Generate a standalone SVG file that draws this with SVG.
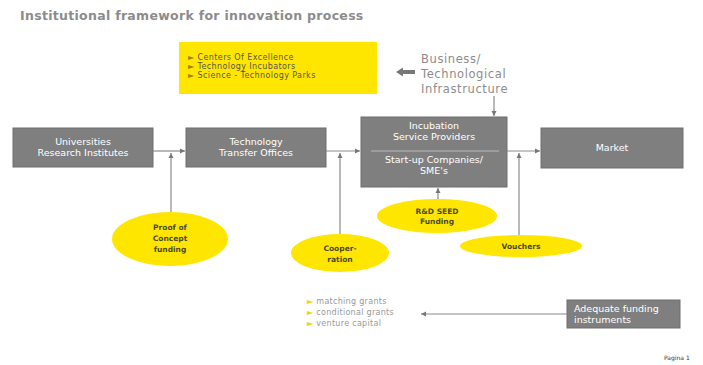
<svg xmlns="http://www.w3.org/2000/svg" width="703" height="365" viewBox="0 0 703 365">
<style>
.box{fill:#7f7f7f;stroke:#6e6e6e;stroke-width:1}
.ell{fill:#ffe600}
.wt{font-family:"DejaVu Sans",Verdana,sans-serif;font-size:9.5px;fill:#ffffff;text-anchor:middle}
.et{font-family:"DejaVu Sans",Verdana,sans-serif;font-size:7.5px;font-weight:bold;fill:#4a4a2a;text-anchor:middle}
.ln{stroke:#8a8a8a;stroke-width:1.2;fill:none}
.sm{font-family:"DejaVu Sans",Verdana,sans-serif;font-size:8px;letter-spacing:0.4px;fill:#555}
.gr{font-family:"DejaVu Sans",Verdana,sans-serif;font-size:8px;letter-spacing:0.3px;fill:#999}
</style>
<defs>
<marker id="ah" markerWidth="6" markerHeight="6" refX="5" refY="3" orient="auto" markerUnits="userSpaceOnUse">
<path d="M0,0.5 L5,3 L0,5.5 Z" fill="#777"/>
</marker>
</defs>
<rect width="703" height="365" fill="#ffffff"/>
<text x="20" y="20" font-family="DejaVu Sans,Verdana,sans-serif" font-size="12.5" font-weight="bold" letter-spacing="0.3" fill="#8c8c8c">Institutional framework for innovation process</text>

<g id="infra-box">
<rect x="179" y="42" width="198" height="52" fill="#ffe600"/>
<text class="sm" x="188" y="60"><tspan fill="#a08000">►</tspan> Centers Of Excellence</text>
<text class="sm" x="188" y="69"><tspan fill="#a08000">►</tspan> Technology Incubators</text>
<text class="sm" x="188" y="78"><tspan fill="#a08000">►</tspan> Science - Technology Parks</text>
</g>
<g id="infra-label">
<text font-family="DejaVu Sans,Verdana,sans-serif" font-size="11.5" letter-spacing="0.6" fill="#8c8c8c"><tspan x="421" y="63">Business/</tspan><tspan x="421" y="78">Technological</tspan><tspan x="421" y="93">Infrastructure</tspan></text>
</g>

<g id="universities">
<rect class="box" x="13" y="128" width="140" height="39"/>
<text class="wt" x="83" y="145">Universities</text>
<text class="wt" x="83" y="156">Research Institutes</text>
</g>
<g id="tto">
<rect class="box" x="186" y="128" width="140" height="39"/>
<text class="wt" x="256" y="145">Technology</text>
<text class="wt" x="256" y="156">Transfer Offices</text>
</g>
<g id="incubation">
<rect class="box" x="361" y="117" width="146" height="70"/>
<line x1="371" y1="151" x2="499" y2="151" stroke="#bbbbbb" stroke-width="1"/>
<text class="wt" x="434" y="129">Incubation</text>
<text class="wt" x="434" y="140">Service Providers</text>
<text class="wt" x="434" y="163">Start-up Companies/</text>
<text class="wt" x="434" y="174">SME's</text>
</g>
<g id="market">
<rect class="box" x="541" y="128" width="142" height="40"/>
<text class="wt" x="612" y="151">Market</text>
</g>

<g id="poc">
<ellipse class="ell" cx="170" cy="239" rx="58" ry="27"/>
<text class="et" x="170" y="230">Proof of</text>
<text class="et" x="170" y="241">Concept</text>
<text class="et" x="170" y="252">funding</text>
</g>
<g id="cooperation">
<ellipse class="ell" cx="340" cy="253" rx="49" ry="19"/>
<text class="et" x="340" y="251">Cooper-</text>
<text class="et" x="340" y="262">ration</text>
</g>
<g id="rdseed">
<ellipse class="ell" cx="437" cy="216" rx="60" ry="17"/>
<text class="et" x="437" y="214">R&amp;D SEED</text>
<text class="et" x="437" y="224">Funding</text>
</g>
<g id="vouchers">
<ellipse class="ell" cx="521" cy="246" rx="61" ry="11"/>
<text class="et" x="521" y="249">Vouchers</text>
</g>

<g id="funding-list">
<text class="gr" x="307" y="304"><tspan fill="#e8d800">►</tspan>  matching grants</text>
<text class="gr" x="307" y="315"><tspan fill="#e8d800">►</tspan>  conditional grants</text>
<text class="gr" x="307" y="326"><tspan fill="#e8d800">►</tspan>  venture capital</text>
</g>
<g id="adequate">
<rect class="box" x="567" y="300" width="113" height="28"/>
<text font-family="DejaVu Sans,Verdana,sans-serif" font-size="9.5" fill="#ffffff"><tspan x="574" y="312">Adequate funding</tspan><tspan x="574" y="323">instruments</tspan></text>
</g>

<text x="664" y="360" font-family="DejaVu Sans,Verdana,sans-serif" font-size="6" fill="#333">Pagina 1</text>

<g id="connectors">
<path d="M415,72 L402,72" stroke="#777" stroke-width="4"/>
<path d="M403,67.5 L396,72 L403,76.5 Z" fill="#777"/>
<line class="ln" x1="494" y1="96" x2="494" y2="116" marker-end="url(#ah)"/>
<line class="ln" x1="153" y1="151" x2="185" y2="151" marker-end="url(#ah)"/>
<line class="ln" x1="326" y1="151" x2="360" y2="151" marker-end="url(#ah)"/>
<line class="ln" x1="507" y1="151" x2="540" y2="151" marker-end="url(#ah)"/>
<line class="ln" x1="171" y1="212" x2="171" y2="153" marker-end="url(#ah)"/>
<line class="ln" x1="340" y1="234" x2="340" y2="153" marker-end="url(#ah)"/>
<line class="ln" x1="438" y1="199" x2="438" y2="188" marker-end="url(#ah)"/>
<line class="ln" x1="519" y1="235" x2="519" y2="153" marker-end="url(#ah)"/>
<line class="ln" x1="567" y1="314" x2="421" y2="314" marker-end="url(#ah)"/>
</g>
</svg>
